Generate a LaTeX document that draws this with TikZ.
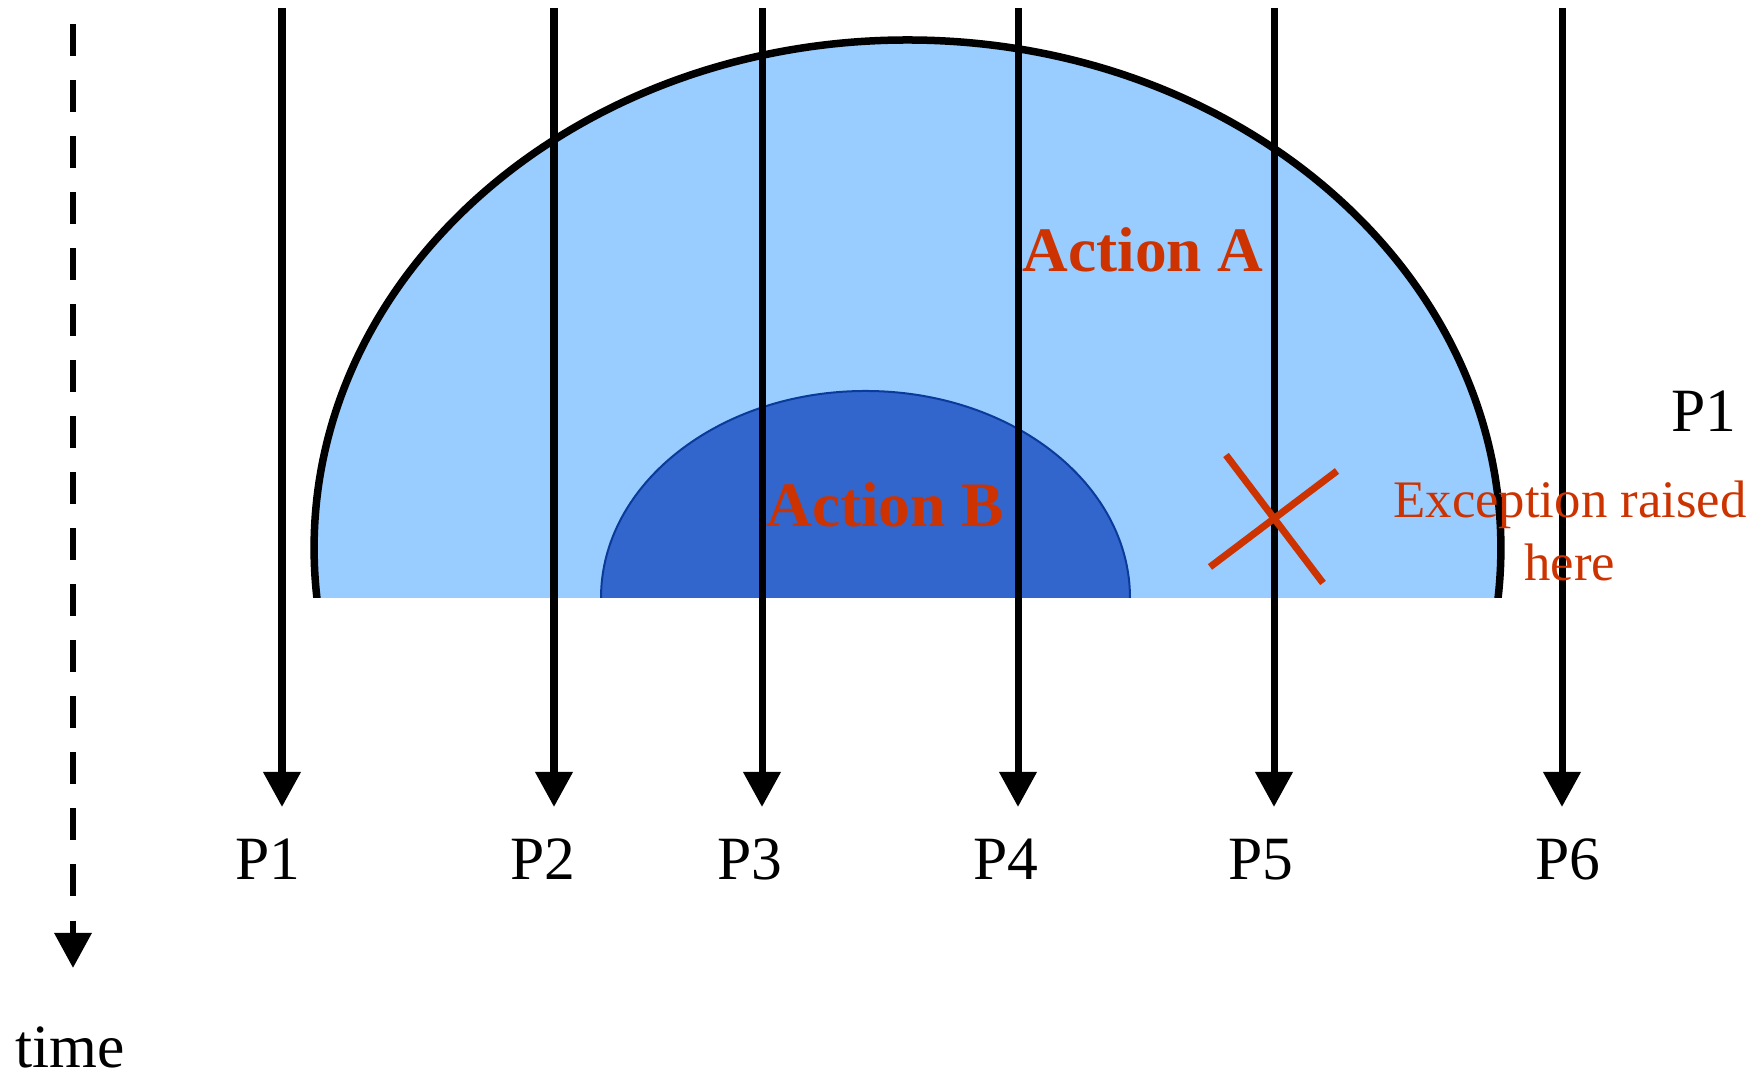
\documentclass[tikz,border=0pt]{standalone}
\usepackage{fontspec}
\setmainfont{Liberation Serif}
\usetikzlibrary{positioning,arrows.meta}
\definecolor{lightblue}{HTML}{99CCFF}
\definecolor{deepblue}{HTML}{3366CC}
\definecolor{navyedge}{HTML}{0A3A9A}
\definecolor{errred}{HTML}{CC3300}
\tikzset{
  flow/.style={-{Triangle[length=3.5mm, width=3.6mm]}, line width=0.7mm},
  timeflow/.style={flow, line width=0.65mm, dash pattern=on 3.2mm off 2.4mm},
  plab/.style={anchor=base, font=\fontsize{17.5}{21}\selectfont},
  act/.style={anchor=base, text=errred, font=\fontsize{18}{22}\selectfont\bfseries},
  note/.style={anchor=base, align=center, text=errred, font=\fontsize{15}{18}\selectfont},
  cross/.style={errred, line width=0.7mm},
}

\begin{document}
\begin{tikzpicture}[x=0.01cm, y=-0.01cm]
  \useasboundingbox (0,0) rectangle (1762,1077);

  % the two nested actions, cut off at the bottom
  \begin{scope}
    \clip (0,0) rectangle (1762,598);
    \fill[lightblue] (907.5,548) ellipse [x radius=593.4, y radius=508];
    \draw[line width=0.75mm] (907.5,548) ellipse [x radius=593.4, y radius=508];
    \filldraw[fill=deepblue, draw=navyedge, line width=0.2mm] (865.5,598) ellipse [x radius=264.5, y radius=207];
  \end{scope}

  % time axis
  \coordinate (ttop) at (73,24);
  \coordinate (tend) at (73,968);
  \draw[timeflow] (ttop) -- (tend);
  \node[plab] (time) at (70,1068) {time};

  % processes
  \coordinate (t1) at (282,8);   \coordinate (b1) at (282,807);
  \coordinate (t2) at (554,8);   \coordinate (b2) at (554,807);
  \coordinate (t3) at (762,8);   \coordinate (b3) at (762,807);
  \coordinate (t4) at (1018,8);  \coordinate (b4) at (1018,807);
  \coordinate (t5) at (1274,8);  \coordinate (b5) at (1274,807);
  \coordinate (t6) at (1562,8);  \coordinate (b6) at (1562,807);
  \draw[flow] (t1) -- (b1);
  \draw[flow] (t2) -- (b2);
  \draw[flow] (t3) -- (b3);
  \draw[flow] (t4) -- (b4);
  \draw[flow] (t5) -- (b5);
  \draw[flow] (t6) -- (b6);
  \node[plab] (p1) at (268,880) {P1};
  \node[plab] (p2) at (543,880) {P2};
  \node[plab] (p3) at (750,880) {P3};
  \node[plab] (p4) at (1006,880) {P4};
  \node[plab] (p5) at (1261,880) {P5};
  \node[plab] (p6) at (1568,880) {P6};
  \node[plab] (pside) at (1704,432) {P1};

  % exception mark
  \coordinate (xa) at (1226,455); \coordinate (xb) at (1323,583);
  \coordinate (xc) at (1210,567); \coordinate (xd) at (1337,471);
  \draw[cross] (xa) -- (xb);
  \draw[cross] (xc) -- (xd);

  \node[act] (acta) at (1143,272) {Action A};
  \node[act] (actb) at (885,527) {Action B};
  \node[note] (exc) at (1570,581) {Exception raised\\here};
\end{tikzpicture}
\end{document}
